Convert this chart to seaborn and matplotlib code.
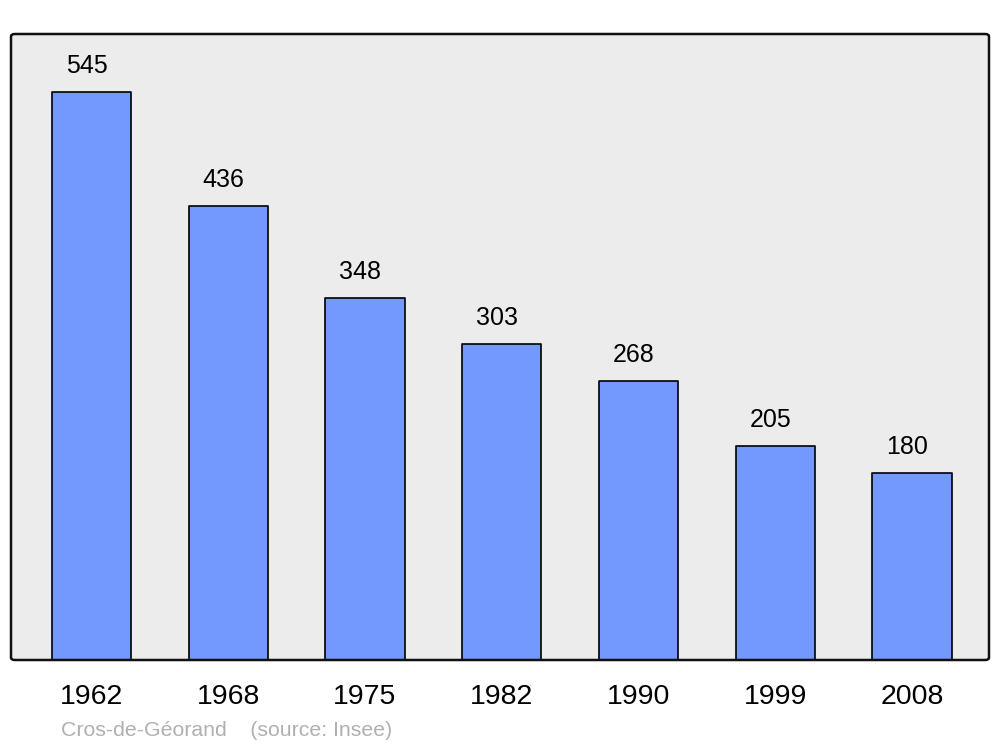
import matplotlib
matplotlib.use("Agg")
import matplotlib.pyplot as plt
import seaborn as sns
import pandas as pd
from matplotlib.patches import FancyBboxPatch

years = ["1962", "1968", "1975", "1982", "1990", "1999", "2008"]
population = [545, 436, 348, 303, 268, 205, 180]
source_text = "Cros-de-Géorand    (source: Insee)"

sns.set_theme(style="white")
plt.rcParams["font.family"] = ["Liberation Sans", "DejaVu Sans"]

df = pd.DataFrame({"year": years, "pop": population})

fig = plt.figure(figsize=(10, 7.47), dpi=100)
W, H = 1000, 747
ax = fig.add_axes([11 / W, 1 - 660 / H, 978 / W, 626 / H])
ax.set_facecolor("#ececec")

sns.barplot(data=df, x="year", y="pop", ax=ax, color="#7399ff",
            width=0.58, edgecolor="black", linewidth=1.2, saturation=1)
for p in ax.patches:
    p.set_joinstyle("round")
    p.set_facecolor("#7399ff")

ax.set_xlim(-0.589, 6.563)
ax.set_ylim(0, 601)

for i, v in enumerate(population):
    ax.annotate(str(v), (i, v), xytext=(-5, 26), textcoords="offset pixels",
                ha="center", va="center", fontsize=18, color="black")

ax.set_xlabel("")
ax.set_ylabel("")
ax.set_yticks([])
ax.tick_params(axis="x", length=0, pad=17.5, labelsize=20.5, labelcolor="black")
for s in ax.spines.values():
    s.set_visible(False)

frame = FancyBboxPatch((0, 0), 1, 1, boxstyle="round,pad=0,rounding_size=0.004",
                       transform=ax.transAxes, facecolor="none",
                       edgecolor="#111111", linewidth=1.8, clip_on=False, zorder=5)
ax.add_patch(frame)

fig.text(61 / W, 1 - 731 / H, source_text, ha="left", va="center",
         fontsize=15.3, color="#b0b0b0")

fig.savefig("out.png", dpi=100, facecolor="white")
